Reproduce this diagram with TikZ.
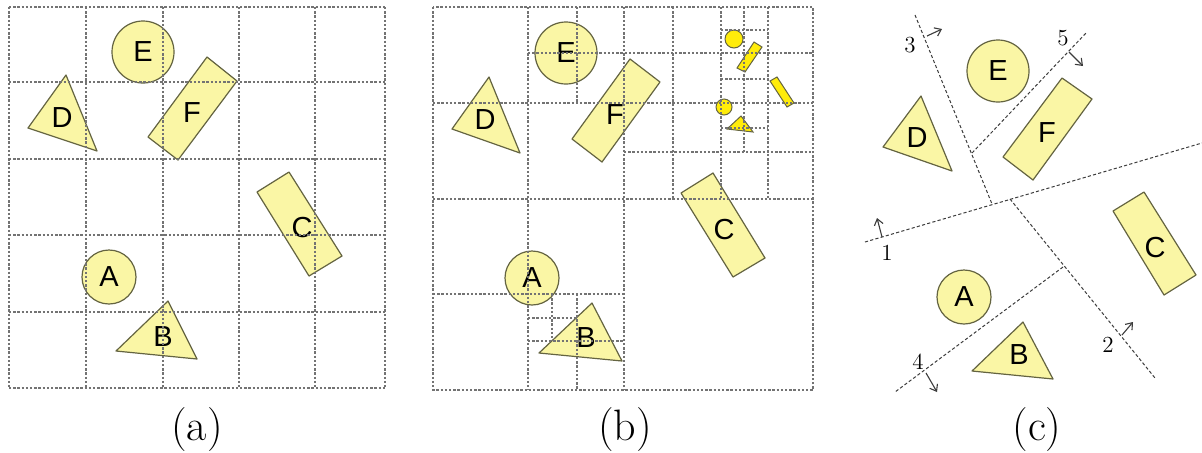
\documentclass[tikz,border=0pt]{standalone}
\usepackage{fontspec}
\usetikzlibrary{arrows.meta}
\newfontfamily\labelfont{Liberation Sans}
\definecolor{shapefill}{RGB}{250,246,165}
\definecolor{shapeline}{RGB}{100,100,65}
\definecolor{tinyfill}{RGB}{255,236,10}
\definecolor{gridgray}{RGB}{115,115,115}
\definecolor{cutgray}{RGB}{60,60,60}
\tikzset{
  gridline/.style={gridgray, line width=0.8pt, dash pattern=on 1.2pt off 0.9pt},
  cutline/.style={cutgray, line width=0.5pt, dash pattern=on 1.6pt off 1.1pt},
  cutarrow/.style={cutgray, line width=0.55pt, -{Straight Barb[length=3pt,width=4.5pt]}},
  piece/.style={draw=shapeline, fill=shapefill, line width=0.6pt, line join=round},
  tinypiece/.style={draw=shapeline, fill=tinyfill, line width=0.5pt},
  ball/.style={piece, circle, inner sep=0pt, font=\labelfont\fontsize{14.5}{14.5}\selectfont},
  tag/.style={font=\labelfont\fontsize{14.5}{14.5}\selectfont, inner sep=0pt},
  cutnum/.style={font=\fontsize{11.5}{11.5}\selectfont, inner sep=0pt},
  caption/.style={font=\fontsize{22}{22}\selectfont, inner sep=0pt},
}
\begin{document}
\begin{tikzpicture}[x=0.5pt, y=-0.5pt]
  \useasboundingbox (0,0) rectangle (1202,452);

  % (a) uniform grid
  \node[ball, minimum size=31pt] (ea) at (143,52) {E};
  \node[ball, minimum size=27pt] (aa) at (109,277) {A};
  \draw[piece] (66,75) -- (28,128) -- (97,151) -- cycle;
  \node[tag] (da) at (62,118) {D};
  \draw[piece] (207,57) -- (237,81) -- (178,160) -- (148,137) -- cycle;
  \node[tag] (fa) at (192,113) {F};
  \draw[piece] (289,172) -- (257,192) -- (309,276) -- (342,256) -- cycle;
  \node[tag] (ca) at (302,228) {C};
  \draw[piece] (168,301) -- (116,351) -- (197,359) -- cycle;
  \node[tag] (ba) at (163,337) {B};
  \foreach \x in {9,86,163,239,315,385}
    \draw[gridline] (\x,7) -- (\x,388);
  \foreach \y in {7,82,159,235,312,388}
    \draw[gridline] (9,\y) -- (385,\y);
  \node[caption] (capa) at (197,430) {(a)};

  % (b) quadtree
  \node[ball, minimum size=31pt] (eb) at (566,53) {E};
  \node[ball, minimum size=27pt] (ab) at (532,278) {A};
  \draw[piece] (489,77) -- (452,129) -- (520,153) -- cycle;
  \node[tag] (db) at (485,120) {D};
  \draw[piece] (630,59) -- (660,82) -- (602,162) -- (572,139) -- cycle;
  \node[tag] (fb) at (615,115) {F};
  \draw[piece] (713,173) -- (681,193) -- (733,277) -- (765,258) -- cycle;
  \node[tag] (cb) at (724,230) {C};
  \draw[piece] (592,303) -- (539,353) -- (622,361) -- cycle;
  \node[tag] (bb) at (586,338) {B};
  \draw[tinypiece] (734,39) circle (4.5pt);
  \draw[tinypiece] (754,42) -- (762,47) -- (745,72) -- (737,68) -- cycle;
  \draw[tinypiece] (777,77) -- (770,81) -- (787,107) -- (794,103) -- cycle;
  \draw[tinypiece] (724,107) circle (4pt);
  \draw[tinypiece] (741,116) -- (727,129) -- (753,132) -- cycle;
  \draw[gridline] (433,7) rectangle (813,390);
  \foreach \x in {528,624}
    \draw[gridline] (\x,7) -- (\x,390);
  \foreach \y in {103,199}
    \draw[gridline] (433,\y) -- (813,\y);
  \draw[gridline] (577,7) -- (577,103);
  \draw[gridline] (528,53) -- (813,53);
  \foreach \x in {673,721,768}
    \draw[gridline] (\x,7) -- (\x,199);
  \draw[gridline] (624,152) -- (813,152);
  \draw[gridline] (744,7) -- (744,152);
  \foreach \y in {30,79,128}
    \draw[gridline] (721,\y) -- (768,\y);
  \draw[gridline] (433,294) -- (624,294);
  \draw[gridline] (577,294) -- (577,390);
  \draw[gridline] (528,341) -- (624,341);
  \draw[gridline] (552,294) -- (552,341);
  \draw[gridline] (528,318) -- (577,318);
  \node[caption] (capb) at (625,430) {(b)};

  % (c) cutting lines
  \node[ball, minimum size=31pt] (ec) at (998,71) {E};
  \node[ball, minimum size=27pt] (ac) at (964,297) {A};
  \draw[piece] (921,96) -- (883,147) -- (952,171) -- cycle;
  \node[tag] (dc) at (917,138) {D};
  \draw[piece] (1062,78) -- (1092,99) -- (1033,180) -- (1003,157) -- cycle;
  \node[tag] (fc) at (1047,133) {F};
  \draw[piece] (1144,192) -- (1113,211) -- (1164,295) -- (1196,275) -- cycle;
  \node[tag] (cc) at (1155,248) {C};
  \draw[piece] (1023,322) -- (972,371) -- (1053,379) -- cycle;
  \node[tag] (bc) at (1019,355) {B};

  \coordinate (p1a) at (865,242);  \coordinate (p1b) at (1202,143);
  \coordinate (p3a) at (915,15);   \coordinate (p3b) at (992,204);
  \coordinate (p5a) at (972,153);  \coordinate (p5b) at (1086,33);
  \coordinate (p2a) at (1010,199); \coordinate (p2b) at (1155,378);
  \coordinate (p4a) at (1063,267); \coordinate (p4b) at (895,392);
  \foreach \n in {1,2,3,4,5}
    \draw[cutline] (p\n a) -- (p\n b);

  \draw[cutarrow] (882,237) -- (877,218);
  \draw[cutarrow] (927,36) -- (942,29);
  \draw[cutarrow] (1069,52) -- (1083,66);
  \draw[cutarrow] (1122,335) -- (1133,322);
  \draw[cutarrow] (926,373) -- (937,392);
  \node[cutnum] (n1) at (887,253) {1};
  \node[cutnum] (n2) at (1108,345) {2};
  \node[cutnum] (n3) at (910,45) {3};
  \node[cutnum] (n4) at (918,362) {4};
  \node[cutnum] (n5) at (1063,38) {5};
  \node[caption] (capc) at (1037,430) {(c)};
\end{tikzpicture}
\end{document}
